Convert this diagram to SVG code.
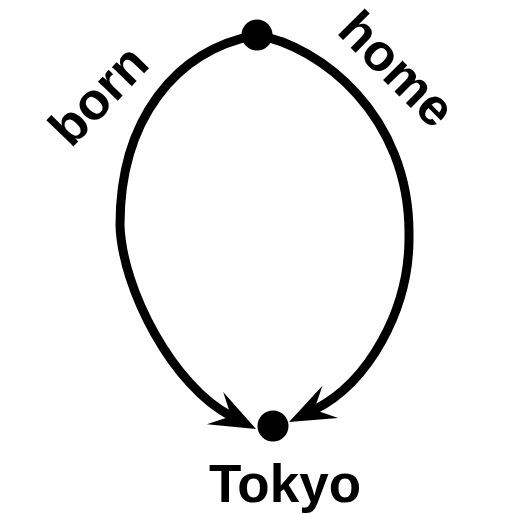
<svg xmlns="http://www.w3.org/2000/svg" xmlns:xlink="http://www.w3.org/1999/xlink" width="513" height="514" viewBox="0 0 513 514">
<style>
.edge{fill:none;stroke:#000;stroke-width:9;stroke-linecap:round}
.dot{fill:#000}
.lbl{font-family:"Liberation Sans",Arial,sans-serif;font-weight:bold;font-size:52px;fill:#000}
</style>
<defs>
<path id="ah" d="M0,0 L-46,-18 L-28,0 L-46,18 Z" fill="#000"/>
</defs>
<rect width="513" height="514" fill="#fff"/>
<g id="connectors">
<g id="edge-born">
<path class="edge" d="M257,35 C175,50 120,120 120,225 C122,290 174,387 231,416"/>
<use xlink:href="#ah" href="#ah" transform="translate(256,429) rotate(27)"/>
<text class="lbl" transform="translate(71,149) rotate(-46)">born</text>
</g>
<g id="edge-home">
<path class="edge" d="M257,35 C320,46 410,115 409,235 C410,310 368,383 314,410"/>
<use xlink:href="#ah" href="#ah" transform="translate(289,422) rotate(154)"/>
<text class="lbl" transform="translate(335.5,32.5) rotate(45)">home</text>
</g>
</g>
<g id="node-top">
<circle class="dot" cx="257" cy="35" r="15.5"/>
</g>
<g id="node-tokyo">
<circle class="dot" cx="273" cy="426" r="15.5"/>
<text class="lbl" x="285" y="502" text-anchor="middle" style="font-size:53px">Tokyo</text>
</g>
</svg>
